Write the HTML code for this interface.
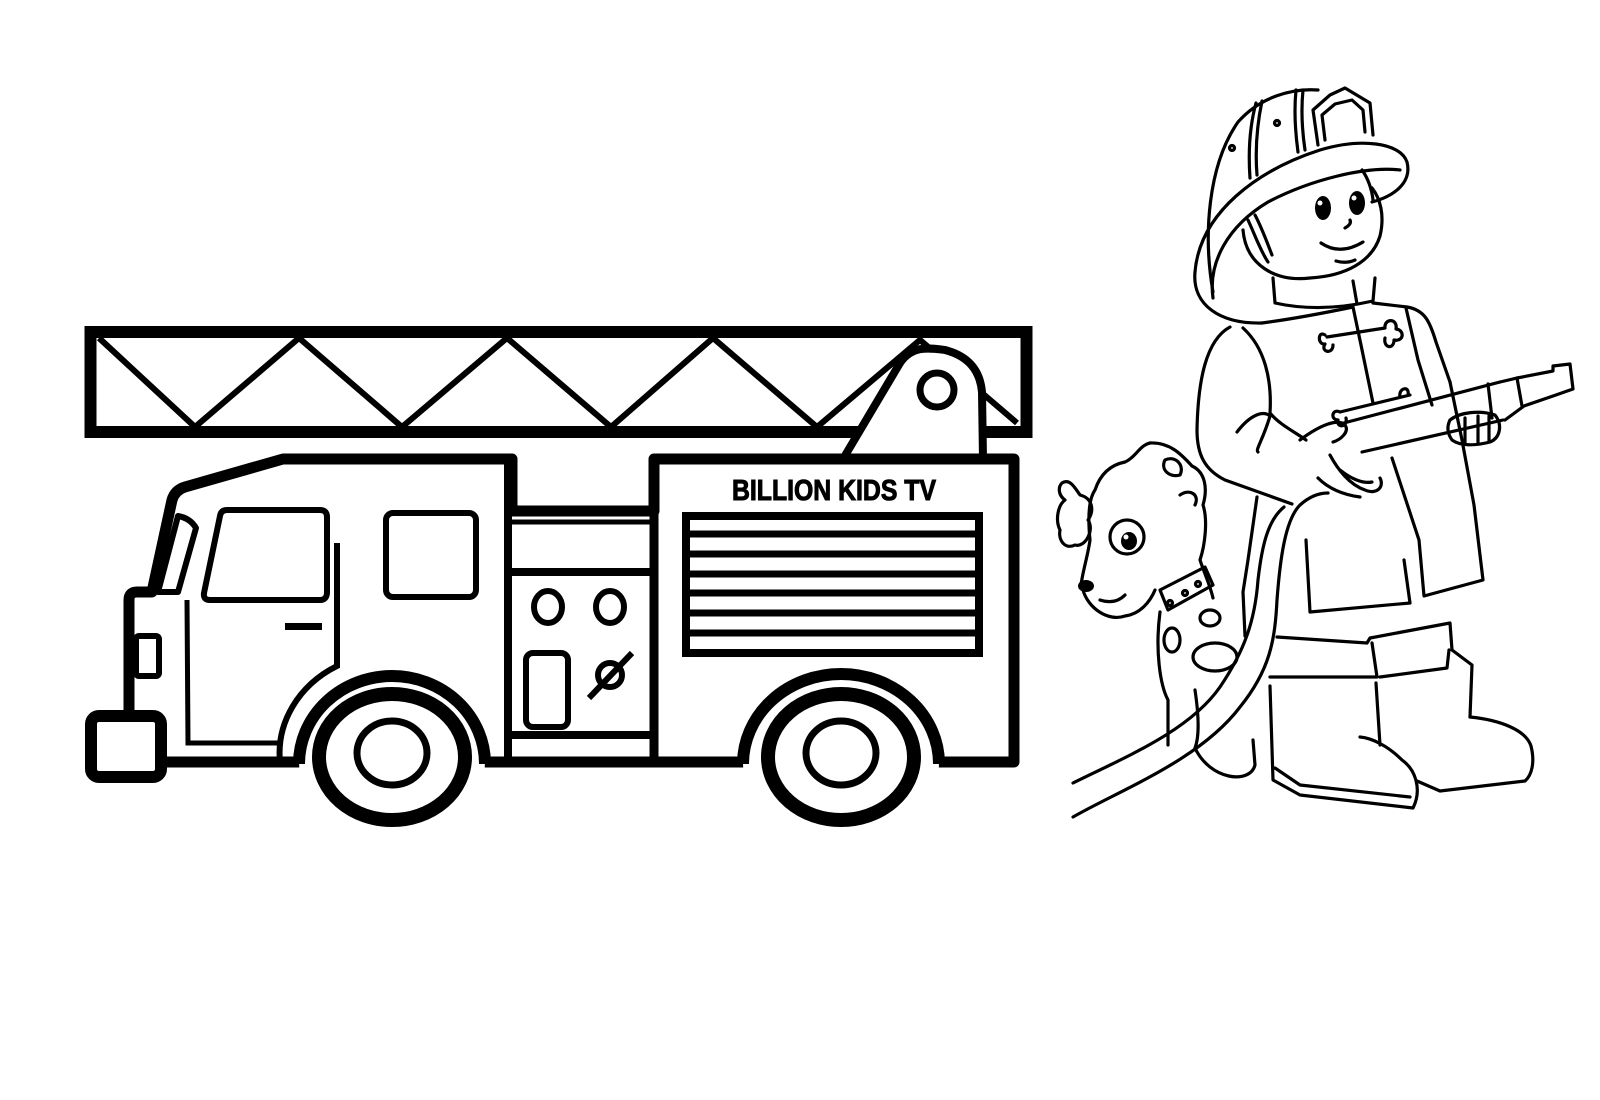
<!DOCTYPE html>
<html><head><meta charset="utf-8"><style>
html,body{margin:0;padding:0;background:#fff;width:1600px;height:1100px;overflow:hidden}
svg{display:block}
</style></head><body>
<svg width="1600" height="1100" viewBox="0 0 1600 1100" xmlns="http://www.w3.org/2000/svg">
<rect width="1600" height="1100" fill="#fff"/>
<!-- Ladder -->
<g fill="none" stroke="#000" stroke-linejoin="miter">
  <rect x="90.5" y="332" width="936" height="100" stroke-width="12"/>
  <polyline points="99,338 195,427 299,338 402,427 507,338 611,427 713,338 817,427 920,340 1017,423" stroke-width="6"/>
</g>
<!-- Boom -->
<path d="M843,459 L900,363 C912,345 930,348 945,350 C968,356 980,370 982,392 L983,459 Z" fill="#fff" stroke="#000" stroke-width="8" stroke-linejoin="round"/>
<circle cx="937" cy="390" r="17" fill="#fff" stroke="#000" stroke-width="7"/>
<!-- Body -->
<g stroke="#000" stroke-linejoin="round" stroke-linecap="butt">
  <path d="M129,762 L129,600 Q129,592 137,592 L152,592 L172,500 Q175,490 185,487 L283,459 L512,459 L512,511 L654,511 L654,459 L1014,459 L1014,762 Z" fill="#fff" stroke-width="11"/>
  <line x1="508" y1="459" x2="508" y2="762" stroke-width="8"/>
  <line x1="654" y1="459" x2="654" y2="762" stroke-width="9"/>
  <line x1="508" y1="522" x2="654" y2="522" stroke-width="5"/>
  <line x1="508" y1="572" x2="654" y2="572" stroke-width="8"/>
  <line x1="508" y1="735" x2="654" y2="735" stroke-width="8"/>
</g>
<path d="M178,516 Q190,518 196,528 L178,592 L158,592 Z" fill="#fff" stroke="#000" stroke-width="6" stroke-linejoin="round"/>
<rect x="136" y="636" width="23" height="40" rx="3" fill="#fff" stroke="#000" stroke-width="6"/>
<path d="M227,510 L320,510 Q327,510 327,517 L327,592 Q327,600 320,600 L210,600 Q203,600 204,593 L220,516 Q221,510 227,510 Z" fill="#fff" stroke="#000" stroke-width="6"/>
<rect x="386" y="513" width="90" height="84" rx="7" fill="#fff" stroke="#000" stroke-width="6"/>
<path d="M187,600 L188,743 L283,743" fill="none" stroke="#000" stroke-width="5"/>
<rect x="285" y="623" width="37" height="7" fill="#000"/>
<ellipse cx="548" cy="607" rx="14" ry="16" fill="#fff" stroke="#000" stroke-width="6"/>
<ellipse cx="610" cy="607" rx="14" ry="16" fill="#fff" stroke="#000" stroke-width="6"/>
<rect x="526" y="653" width="42" height="74" rx="7" fill="#fff" stroke="#000" stroke-width="6"/>
<circle cx="610" cy="675" r="12" fill="#fff" stroke="#000" stroke-width="6"/>
<line x1="589" y1="698" x2="632" y2="653" stroke="#000" stroke-width="6"/>
<text x="834" y="500" text-anchor="middle" font-family="Liberation Sans, Arial, sans-serif" font-weight="bold" font-size="29" textLength="204" lengthAdjust="spacingAndGlyphs" fill="#000" stroke="#000" stroke-width="1">BILLION KIDS TV</text>
<rect x="686" y="516" width="293" height="137" fill="#fff" stroke="#000" stroke-width="8"/>
<g stroke="#000" stroke-width="7">
  <line x1="686" y1="534" x2="979" y2="534"/>
  <line x1="686" y1="554" x2="979" y2="554"/>
  <line x1="686" y1="574" x2="979" y2="574"/>
  <line x1="686" y1="593" x2="979" y2="593"/>
  <line x1="686" y1="613" x2="979" y2="613"/>
  <line x1="686" y1="633" x2="979" y2="633"/>
</g>
<g>
  <path d="M280,762 A112,100 0 0 1 337,666 L337,543" fill="none" stroke="#000" stroke-width="6"/>
  <ellipse cx="392" cy="762" rx="93" ry="88" fill="#fff"/>
  <path d="M299,764 A93,88 0 0 1 485,764" fill="none" stroke="#000" stroke-width="12"/>
  <ellipse cx="392" cy="757" rx="73" ry="63" fill="#fff" stroke="#000" stroke-width="14"/>
  <ellipse cx="392" cy="753" rx="35" ry="32" fill="#fff" stroke="#000" stroke-width="7"/>
  <ellipse cx="841" cy="762" rx="98" ry="90" fill="#fff"/>
  <path d="M743,764 A98,90 0 0 1 939,764" fill="none" stroke="#000" stroke-width="12"/>
  <ellipse cx="841" cy="757" rx="73" ry="63" fill="#fff" stroke="#000" stroke-width="14"/>
  <ellipse cx="841" cy="753" rx="35" ry="32" fill="#fff" stroke="#000" stroke-width="7"/>
</g>
<rect x="91" y="716" width="70" height="61" rx="8" fill="#fff" stroke="#000" stroke-width="12"/>

<!-- Fireman -->
<g fill="none" stroke="#000" stroke-width="3.2" stroke-linecap="round" stroke-linejoin="round">
  <path d="M1213,292 C1203,235 1208,165 1238,122 C1260,97 1292,88 1318,90"/>
  <path d="M1250,178 C1248,150 1250,125 1256,103 M1257,175 C1255,150 1257,125 1262,101"/>
  <path d="M1298,152 C1295,130 1294,110 1296,90 M1305,150 C1302,130 1301,110 1303,90"/>
  <path d="M1318,145 L1313,110 L1330,95 L1345,88 L1360,97 L1370,103 L1373,135"/>
  <path d="M1325,140 L1322,115 L1335,104 L1352,100 L1363,110 L1365,132"/>
  <circle cx="1277" cy="123" r="2.5"/><circle cx="1232" cy="148" r="2.5"/>
  <path d="M1262,323 C1220,324 1192,305 1195,272 C1200,212 1258,170 1320,150 C1360,138 1400,142 1407,162 C1412,182 1395,196 1372,202"/>
  <path d="M1213,298 C1208,262 1228,226 1268,202 C1310,180 1365,166 1400,170"/>
  <path d="M1243,230 C1246,265 1275,282 1310,278 C1345,276 1372,262 1380,236 C1385,215 1380,198 1372,188"/>
  <path d="M1248,220 C1255,235 1260,250 1268,262 M1255,215 C1262,228 1268,245 1272,255 M1362,170 C1368,178 1372,190 1373,200"/>
  <path d="M1321,243 Q1340,256 1363,242"/>
  <path d="M1336,261 Q1346,264 1355,260"/>
  <path d="M1345,228 Q1352,224 1350,220"/>
  <path d="M1273,278 L1275,303 Q1320,313 1373,301 L1375,278"/>
  <path d="M1353,281 L1357,304"/>
  <path d="M1230,327 C1206,340 1198,380 1197,430 C1197,455 1205,470 1225,480 L1292,504"/>
  <path d="M1243,328 C1265,348 1272,380 1270,413 C1280,425 1295,432 1306,440"/>
  <path d="M1237,432 C1250,415 1263,410 1270,416 C1263,440 1255,450 1258,452"/>
  <path d="M1262,323 Q1300,318 1353,307"/>
  <path d="M1373,303 L1407,307 C1425,310 1430,322 1436,342 L1450,382"/>
  <path d="M1353,307 L1361,345 L1373,403"/>
  <path d="M1406,308 L1418,360 L1432,405"/>
  <path d="M1450,382 L1462,440 L1474,505 L1483,580 L1424,596 L1419,540 L1392,458"/>
  <path d="M1257,497 L1248,560 L1243,592 L1245,636"/>
  <path d="M1306,540 L1310,612 L1410,603 L1404,560"/>
  <path d="M1327,337 L1385,328 M1325,335 C1318,330 1317,345 1325,344 C1320,352 1333,355 1333,345 M1385,328 C1384,318 1398,318 1396,329 C1405,330 1404,342 1394,340 C1394,350 1383,348 1385,338"/>
  <path d="M1340,412 L1410,395 M1340,412 C1332,408 1330,420 1338,420 C1336,428 1348,428 1346,418 M1400,397 C1398,388 1410,385 1408,395"/>
  <path d="M1277,637 L1367,643 L1370,638 L1450,623 L1452,650 L1472,665 L1470,717"/>
  <path d="M1270,677 L1377,677 L1372,643"/>
  <path d="M1380,677 L1447,668 L1449,650"/>
  <path d="M1270,686 L1273,780 L1300,795 L1413,808 C1422,790 1416,770 1402,760 C1388,746 1372,738 1360,737"/>
  <path d="M1376,683 L1380,745"/>
  <path d="M1470,717 C1500,720 1526,730 1531,746 C1535,762 1532,775 1525,781 L1440,791 L1417,781"/>
  <path d="M1275,768 L1300,785 L1410,797"/>
  <path d="M1073,817 C1120,790 1200,760 1240,707 C1270,670 1275,640 1277,600 C1280,560 1285,520 1300,505 C1310,496 1320,493 1328,493"/>
  <path d="M1073,783 C1130,755 1190,730 1220,687 C1245,650 1255,620 1258,580 C1262,545 1268,520 1284,507"/>
  <path d="M1340,424 L1500,382 M1362,452 L1503,420"/>
  <path d="M1488,384 L1492,418 M1500,382 L1517,378 L1553,371 L1553,366 L1570,364 L1573,389 L1553,396 L1524,406 L1505,420"/>
  <path d="M1517,378 L1522,406"/>
  <path d="M1300,440 C1320,425 1338,418 1345,425 C1350,432 1340,440 1333,442 M1330,455 C1338,470 1350,485 1365,490 C1375,495 1385,488 1380,478 M1340,470 C1350,478 1362,484 1372,482 M1318,478 C1330,490 1345,495 1360,497"/>
  <path d="M1450,420 C1460,412 1480,410 1495,415 C1503,425 1500,438 1490,442 C1475,446 1460,446 1452,440 Q1445,430 1450,420 M1465,418 L1465,444 M1478,416 L1478,444 M1489,416 L1489,442"/>
  <path d="M1150,443 C1170,442 1182,455 1192,466 C1205,472 1208,488 1203,505 C1208,520 1205,545 1200,560 C1205,575 1210,585 1213,598"/>
  <path d="M1150,443 C1140,445 1135,458 1125,462 C1110,465 1100,475 1095,490 C1088,500 1088,520 1090,540 C1088,555 1083,570 1081,585"/>
  <path d="M1062,483 C1070,478 1075,488 1080,495 C1092,498 1095,510 1088,520 C1095,530 1085,548 1075,545 C1065,550 1058,540 1060,530 C1055,520 1058,505 1065,500 C1058,495 1058,487 1062,483"/>
  <path d="M1083,590 C1088,608 1108,622 1125,616 C1140,614 1150,602 1155,590"/>
  <path d="M1100,600 Q1115,605 1125,595"/>
  <circle cx="1127" cy="537" r="17"/>
  <path d="M1160,590 L1205,567 L1213,585 L1168,610 Z"/>
  <circle cx="1170" cy="603" r="2.5"/><circle cx="1185" cy="593" r="2.5"/><circle cx="1198" cy="584" r="2.5"/>
  <path d="M1160,612 C1155,650 1160,685 1168,700 L1168,745 M1195,690 C1198,710 1200,735 1195,748 C1210,780 1250,785 1255,765 L1253,740"/>
  <ellipse cx="1215" cy="657" rx="22" ry="14"/>
  <ellipse cx="1210" cy="618" rx="10" ry="8"/>
  <ellipse cx="1172" cy="640" rx="8" ry="12"/>
  <path d="M1165,460 C1175,455 1185,465 1180,475 C1170,478 1160,470 1165,460 M1180,495 C1190,488 1200,495 1195,505"/>
</g>
<ellipse cx="1129" cy="541" rx="8" ry="9" fill="#000"/>
<circle cx="1126" cy="537" r="2.5" fill="#fff"/>
<ellipse cx="1086" cy="586" rx="8" ry="6" fill="#000"/>
<ellipse cx="1323" cy="208" rx="8" ry="12" fill="#000"/>
<ellipse cx="1357" cy="203" rx="8" ry="12" fill="#000"/>
<circle cx="1320" cy="203" r="2.5" fill="#fff"/>
<circle cx="1354" cy="198" r="2.5" fill="#fff"/>
</svg>
</body></html>
